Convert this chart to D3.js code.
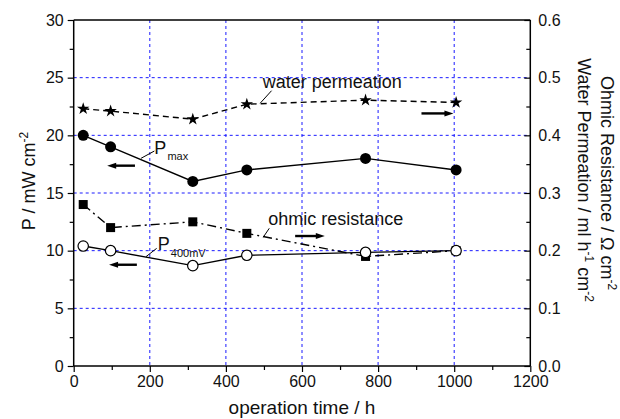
<!DOCTYPE html>
<html><head><meta charset="utf-8">
<script src="https://cdn.jsdelivr.net/npm/d3@7"></script>
<style>
html,body{margin:0;padding:0;background:#fff;}
text{font-family:"Liberation Sans",Arial,Helvetica,sans-serif;fill:#111;}
</style></head>
<body><svg id="c" width="620" height="419"></svg>
<script>
// ---- data ----
const timeH = [25, 97, 313, 455, 767, 1005];
const pMax = [20.0, 19.0, 16.0, 17.0, 18.0, 17.0];
const p400mV = [10.4, 10.0, 8.7, 9.6, 9.85, 10.0];
const ohmicResistance = [0.28, 0.24, 0.25, 0.23, 0.19, 0.20];
const waterPermeation = [0.446, 0.442, 0.428, 0.454, 0.461, 0.457];
const xTicks = [0, 200, 400, 600, 800, 1000, 1200];
const yLeftTicks = [0, 5, 10, 15, 20, 25, 30];
const yRightTicks = [0.0, 0.1, 0.2, 0.3, 0.4, 0.5, 0.6];

const svg = d3.select("#c");
const L = 73.7, R = 530.3, T = 20, B = 366;
const x = d3.scaleLinear().domain([0, 1200]).range([L, R]);
const yL = d3.scaleLinear().domain([0, 30]).range([B, T]);
const yR = d3.scaleLinear().domain([0, 0.6]).range([B, T]);

// grid
const grid = svg.append("g").attr("stroke", "#1a1aff").attr("stroke-width", 1).attr("stroke-dasharray", "3,3");
grid.selectAll("line.v").data(xTicks.filter(d => d > 0 && d < 1200)).join("line")
  .attr("x1", d => x(d)).attr("x2", d => x(d)).attr("y1", T).attr("y2", B);
grid.selectAll("line.h").data(yLeftTicks.filter(d => d > 0 && d < 30)).join("line")
  .attr("x1", L).attr("x2", R).attr("y1", d => yL(d)).attr("y2", d => yL(d));

// axes
const fs = "16px";
const gx = svg.append("g").attr("transform", `translate(0,${B})`)
  .call(d3.axisBottom(x).tickValues(xTicks).tickSize(6).tickPadding(4).tickFormat(d3.format("d")));
const gxm = svg.append("g").attr("transform", `translate(0,${B})`)
  .call(d3.axisBottom(x).tickValues(d3.range(100, 1200, 200)).tickSize(4).tickFormat(""));
const gy = svg.append("g").attr("transform", `translate(${L},0)`)
  .call(d3.axisLeft(yL).tickValues(yLeftTicks).tickSize(6).tickPadding(4).tickFormat(d3.format("d")));
const gym = svg.append("g").attr("transform", `translate(${L},0)`)
  .call(d3.axisLeft(yL).tickValues(d3.range(2.5, 30, 5)).tickSize(4).tickFormat(""));
const gr = svg.append("g").attr("transform", `translate(${R},0)`)
  .call(d3.axisRight(yR).tickValues(yRightTicks).tickSize(-6).tickPadding(7).tickFormat(d3.format(".1f")));
const grm = svg.append("g").attr("transform", `translate(${R},0)`)
  .call(d3.axisRight(yR).tickValues(d3.range(0.05, 0.6, 0.1)).tickSize(-4).tickFormat(""));
const gt = svg.append("g").attr("transform", `translate(0,${T})`)
  .call(d3.axisTop(x).tickValues([]).tickSizeOuter(0));
[gx, gxm, gy, gym, gr, grm, gt].forEach(g => {
  g.selectAll(".domain").attr("stroke", "#000").attr("stroke-width", 1.5);
  g.selectAll(".tick line").attr("stroke", "#000").attr("stroke-width", 1.2);
  g.selectAll("text").attr("font-size", fs).attr("fill", "#111")
    .attr("font-family", "Liberation Sans, Arial, sans-serif");
});
gr.selectAll("text").attr("x", 8);
gx.select(".domain").attr("d", `M${L},0H${R}`);
gy.select(".domain").attr("d", `M0,${T}V${B}`);
gr.select(".domain").attr("d", `M0,${T}V${B}`);
gt.select(".domain").attr("d", `M${L},0H${R}`);
[gxm, gym, grm].forEach(g => g.select(".domain").remove());

// axis titles
svg.append("text").attr("x", (L + R) / 2).attr("y", 414).attr("text-anchor", "middle")
  .attr("font-size", "19px").text("operation time / h");
const lt = svg.append("text").attr("transform", `translate(35,181) rotate(-90)`)
  .attr("text-anchor", "middle").attr("font-size", "18px");
lt.append("tspan").text("P / mW cm");
lt.append("tspan").attr("dy", -7).attr("font-size", "12px").text("-2");
const rt1 = svg.append("text").attr("transform", `translate(601,183) rotate(90)`)
  .attr("text-anchor", "middle").attr("font-size", "18px");
rt1.append("tspan").text("Ohmic Resistance / Ω cm");
rt1.append("tspan").attr("dy", -7).attr("font-size", "12px").text("-2");
const rt2 = svg.append("text").attr("transform", `translate(578,180) rotate(90)`)
  .attr("text-anchor", "middle").attr("font-size", "18px");
rt2.append("tspan").text("Water Permeation / ml h");
rt2.append("tspan").attr("dy", -7).attr("font-size", "12px").text("-1");
rt2.append("tspan").attr("dy", 7).text(" cm");
rt2.append("tspan").attr("dy", -7).attr("font-size", "12px").text("-2");

// series
const mk = (vals, ys) => timeH.map((t, i) => [x(t), ys(vals[i])]);
const line = d3.line();
function drawLine(pts, dash){
  svg.append("path").attr("d", line(pts)).attr("fill", "none").attr("stroke", "#000")
    .attr("stroke-width", 1.4).attr("stroke-dasharray", dash);
}
const ptsW = mk(waterPermeation, yR), ptsO = mk(ohmicResistance, yR);
const ptsM = mk(pMax, yL), ptsP = mk(p400mV, yL);
drawLine(ptsW, "6,4");
drawLine(ptsO, "9,4,2,4");
drawLine(ptsM, null);
drawLine(ptsP, null);

svg.append("g").selectAll("path").data(ptsW).join("path")
  .attr("d", d3.symbol().type(d3.symbolStar).size(48)).attr("transform", d => `translate(${d[0]},${d[1]})`).attr("fill", "#000");
svg.append("g").selectAll("rect").data(ptsO).join("rect")
  .attr("x", d => d[0] - 4.5).attr("y", d => d[1] - 4.5).attr("width", 9).attr("height", 9).attr("fill", "#000");
svg.append("g").selectAll("circle").data(ptsP).join("circle")
  .attr("cx", d => d[0]).attr("cy", d => d[1]).attr("r", 5.2).attr("fill", "#fff").attr("stroke", "#000").attr("stroke-width", 1.2);
svg.append("g").selectAll("circle").data(ptsM).join("circle")
  .attr("cx", d => d[0]).attr("cy", d => d[1]).attr("r", 5.5).attr("fill", "#000");

// annotations (arrows, leaders, labels)
function arrow(x1, x2, yy){ // points toward x2
  const dir = Math.sign(x2 - x1);
  svg.append("line").attr("x1", x1).attr("x2", x2 - dir * 7).attr("y1", yy).attr("y2", yy)
    .attr("stroke", "#000").attr("stroke-width", 2.4);
  svg.append("path").attr("d", `M${x2},${yy}L${x2 - dir * 9},${yy - 3}L${x2 - dir * 9},${yy + 3}Z`).attr("fill", "#000");
}
arrow(x(161), x(88), yL(17.37));
arrow(x(914), x(998), yL(21.9));
arrow(x(582), x(660), yL(11.27));
arrow(x(166), x(93), yL(8.78));

function leader(a, b, c, d){
  svg.append("line").attr("x1", x(a)).attr("y1", yL(b)).attr("x2", x(c)).attr("y2", yL(d))
    .attr("stroke", "#000").attr("stroke-width", 1);
}
leader(490, 22.78, 520, 23.87);
leader(177, 18.01, 212, 18.64);
leader(498, 11.16, 514, 11.94);
leader(190, 9.48, 218, 10.2);

svg.append("text").attr("x", x(497)).attr("y", yL(24.1)).attr("font-size", "18px").text("water permeation");
svg.append("text").attr("x", x(511)).attr("y", yL(12.23)).attr("font-size", "18px").text("ohmic resistance");
const tm = svg.append("text").attr("x", x(212)).attr("y", yL(18.38)).attr("font-size", "18px");
tm.append("tspan").text("P");
tm.append("tspan").attr("dy", 6).attr("dx", 1).attr("font-size", "11px").text("max");
const tp = svg.append("text").attr("x", x(221)).attr("y", yL(10.06)).attr("font-size", "18px");
tp.append("tspan").text("P");
tp.append("tspan").attr("dy", 7).attr("dx", 1).attr("font-size", "11px").text("400mV");
</script></body></html>
